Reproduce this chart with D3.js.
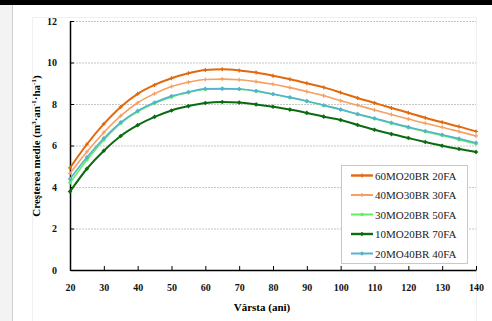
<!DOCTYPE html>
<html><head><meta charset="utf-8">
<script src="https://cdn.jsdelivr.net/npm/d3@7"></script>
<style>body{margin:0;background:#fff}svg{display:block}text{font-family:"Liberation Serif","DejaVu Serif",serif}</style>
</head><body>
<svg id="c" width="492" height="321"></svg>
<script>
const ages = [20,25,30,35,40,45,50,55,60,65,70,75,80,85,90,95,100,105,110,115,120,125,130,135,140];
const seriesNames = ["60MO20BR 20FA","40MO30BR 30FA","30MO20BR 50FA","10MO20BR 70FA","20MO40BR 40FA"];
const s60MO20BR20FA = [4.92,6.06,7.04,7.86,8.49,8.92,9.24,9.48,9.64,9.67,9.62,9.52,9.36,9.19,9.0,8.8,8.55,8.29,8.05,7.81,7.58,7.34,7.12,6.91,6.68];
const s40MO30BR30FA = [4.66,5.7,6.63,7.43,8.06,8.5,8.84,9.05,9.18,9.2,9.17,9.08,8.95,8.79,8.6,8.4,8.16,7.94,7.71,7.49,7.28,7.07,6.88,6.67,6.46];
const s30MO20BR50FA = [4.2,5.3,6.27,7.07,7.63,8.03,8.34,8.55,8.71,8.73,8.71,8.62,8.47,8.31,8.13,7.93,7.72,7.5,7.29,7.07,6.86,6.67,6.48,6.28,6.08];
const s10MO20BR70FA = [3.78,4.88,5.75,6.46,6.98,7.38,7.69,7.9,8.05,8.1,8.07,7.98,7.87,7.73,7.57,7.39,7.23,6.99,6.76,6.55,6.36,6.17,5.99,5.83,5.69];
const s20MO40BR40FA = [4.39,5.43,6.35,7.12,7.67,8.07,8.38,8.58,8.73,8.74,8.72,8.63,8.48,8.32,8.14,7.94,7.74,7.52,7.31,7.1,6.89,6.7,6.52,6.33,6.13];
const xTicks = [20,30,40,50,60,70,80,90,100,110,120,130,140];
const yTicks = [0,2,4,6,8,10,12];

const colors = ["#e2690c","#f7a060","#5fef5f","#0c6b12","#55b2cf"];
const widths = [2,1.6,1.6,2,1.6];
const markers = ["plus","plus","circle","diamond","diamond"];
const allSeries = [s60MO20BR20FA,s40MO30BR30FA,s30MO20BR50FA,s10MO20BR70FA,s20MO40BR40FA];

const svg = d3.select("#c");
const SERIF = "'Liberation Serif','DejaVu Serif',serif";
// page frame
svg.append("rect").attr("x",0).attr("y",0).attr("width",12).attr("height",321).attr("fill","#f3f3f3");
svg.append("line").attr("x1",12.5).attr("x2",12.5).attr("y1",4).attr("y2",321).attr("stroke","#cfcfcf");
svg.append("rect").attr("x",0).attr("y",0).attr("width",492).attr("height",5).attr("fill","#000");
svg.append("rect").attr("x",32.5).attr("y",17.5).attr("width",444).attr("height",304).attr("fill","none").attr("stroke","#f0f0f0");

const x = d3.scaleLinear().domain([20,140]).range([70,476]);
const y = d3.scaleLinear().domain([0,12]).range([270,21]);

// gridlines
svg.append("g").selectAll("line").data(yTicks.filter(d=>d>0)).join("line")
  .attr("x1",70).attr("x2",476).attr("y1",d=>y(d)+0.5).attr("y2",d=>y(d)+0.5)
  .attr("stroke","#b8b8b8").attr("stroke-width",0.8).attr("stroke-dasharray","2,1");

// axes
const xAxis = d3.axisBottom(x).tickValues(xTicks).tickSizeInner(-4).tickSizeOuter(0).tickPadding(14);
const gx = svg.append("g").attr("transform","translate(0,270)").call(xAxis);
const yAxis = d3.axisLeft(y).tickValues(yTicks).tickSizeInner(-4).tickSizeOuter(0).tickPadding(13);
const gy = svg.append("g").attr("transform","translate(70,0)").call(yAxis);
[gx,gy].forEach(g=>{
  g.attr("font-family",null);
  g.select(".domain").attr("stroke","#000").attr("stroke-width",1.5);
  g.selectAll(".tick line").attr("stroke","#000").attr("stroke-width",1);
  g.selectAll("text").style("font-family",SERIF).attr("font-size",10).attr("font-weight","bold").attr("fill","#111");
});

// lines
const line = d3.line().x((d,i)=>x(ages[i])).y(d=>y(d)).curve(d3.curveMonotoneX);
const drawMarker = (g, type, cx, cy, col) => {
  if (type==="plus") {
    g.append("path").attr("d",`M${cx-2},${cy}H${cx+2}M${cx},${cy-2}V${cy+2}`).attr("stroke",col).attr("stroke-width",1.2);
  } else if (type==="circle") {
    g.append("circle").attr("cx",cx).attr("cy",cy).attr("r",1.8).attr("fill",col);
  } else {
    g.append("path").attr("d",`M${cx},${cy-2.3}L${cx+2.3},${cy}L${cx},${cy+2.3}L${cx-2.3},${cy}Z`).attr("fill",col);
  }
};
const order = [2,4,1,0,3];
order.forEach(k=>{
  const g = svg.append("g");
  g.append("path").datum(allSeries[k]).attr("d",line).attr("fill","none").attr("stroke",colors[k]).attr("stroke-width",widths[k]);
  allSeries[k].forEach((v,i)=>drawMarker(g,markers[k],x(ages[i]),y(v),colors[k]));
});

// legend
const lg = svg.append("g");
lg.append("rect").attr("x",341.5).attr("y",165.5).attr("width",126).attr("height",98).attr("fill","#fff").attr("stroke","#c8c8c8");
seriesNames.forEach((n,k)=>{
  const ly = 175.5 + k*19.5;
  lg.append("line").attr("x1",351).attr("x2",373).attr("y1",ly).attr("y2",ly).attr("stroke",colors[k]).attr("stroke-width",widths[k]+0.4);
  drawMarker(lg,markers[k],362,ly,colors[k]);
  lg.append("text").attr("x",375).attr("y",ly+4).text(n).style("font-family",SERIF).attr("font-size",11).attr("fill","#222");
});

// axis titles
svg.append("text").attr("x",262).attr("y",311).attr("text-anchor","middle")
  .style("font-family",SERIF).attr("font-size",11).attr("font-weight","bold").text("Vârsta (ani)");
const yt = svg.append("text").attr("transform","translate(40,146) rotate(-90)").attr("text-anchor","middle")
  .style("font-family",SERIF).attr("font-size",11).attr("font-weight","bold");
yt.append("tspan").text("Creşterea medie (m");
yt.append("tspan").attr("dy",-4).attr("font-size",7).text("3");
yt.append("tspan").attr("dy",4).text("·an");
yt.append("tspan").attr("dy",-4).attr("font-size",7).text("-1");
yt.append("tspan").attr("dy",4).text("·ha");
yt.append("tspan").attr("dy",-4).attr("font-size",7).text("-1");
yt.append("tspan").attr("dy",4).text(")");
</script>
</body></html>
